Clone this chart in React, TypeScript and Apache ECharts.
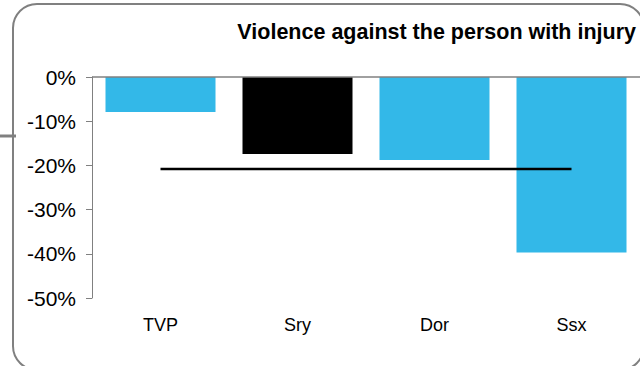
import React, { useEffect, useRef } from "react";
import * as echarts from "echarts";

const titleText = "Violence against the person with injury";
const categories = ["TVP", "Sry", "Dor", "Ssx"];
const changeValues = [-7.9, -17.4, -18.8, -39.7];
const barColors = ["#33b8e8", "#000000", "#33b8e8", "#33b8e8"];
const averageValues = [-20.8, -20.8, -20.8, -20.8];
const yMin = -50;
const yMax = 0;
const yInterval = 10;

export default function App() {
  const ref = useRef<HTMLDivElement>(null);
  useEffect(() => {
    if (!ref.current) return;
    const chart = echarts.init(ref.current, null, { renderer: "svg" });
    const font = "Liberation Sans, Arial, sans-serif";
    chart.setOption({
      animation: false,
      backgroundColor: "#ffffff",
      title: {
        text: titleText,
        right: 4,
        top: 21,
        padding: 0,
        textStyle: { fontSize: 21.5, fontWeight: "bold", color: "#000", fontFamily: font },
      },
      grid: { left: 92, right: 0, top: 77, bottom: 68, containLabel: false },
      xAxis: {
        type: "category",
        data: categories,
        position: "bottom",
        axisLine: { show: false, onZero: false },
        axisTick: { show: false },
        axisLabel: { margin: 18, fontSize: 18, color: "#000", fontFamily: font },
        splitLine: { show: false },
      },
      yAxis: {
        type: "value",
        min: yMin,
        max: yMax,
        interval: yInterval,
        axisLine: { show: true, lineStyle: { color: "#808080", width: 1 } },
        axisTick: { show: true, length: 6, lineStyle: { color: "#808080", width: 1 } },
        axisLabel: { formatter: "{value}%", margin: 16, fontSize: 21, color: "#000", fontFamily: font },
        splitLine: { show: false },
      },
      series: [
        {
          type: "bar",
          data: changeValues.map((v, i) => ({ value: v, itemStyle: { color: barColors[i] } })),
          barWidth: 110,
          markLine: {
            silent: true,
            symbol: "none",
            label: { show: false },
            lineStyle: { color: "#808080", width: 1.5, type: "solid" },
            data: [{ yAxis: 0 }],
          },
        },
        {
          type: "line",
          data: averageValues,
          symbol: "none",
          lineStyle: { color: "#000", width: 2.5 },
          z: 5,
        },
      ],
      graphic: [
        {
          type: "rect",
          shape: { x: 13, y: 4, width: 631, height: 366, r: 24 },
          style: { fill: "none", stroke: "#808080", lineWidth: 2 },
          silent: true,
        },
        {
          type: "line",
          shape: { x1: 0, y1: 136, x2: 16, y2: 136 },
          style: { stroke: "#808080", lineWidth: 3 },
          silent: true,
        },
      ],
    });
    return () => chart.dispose();
  }, []);
  return (
    <div
      ref={ref}
      style={{ position: "fixed", left: 0, top: 0, width: 640, height: 366 }}
    />
  );
}
